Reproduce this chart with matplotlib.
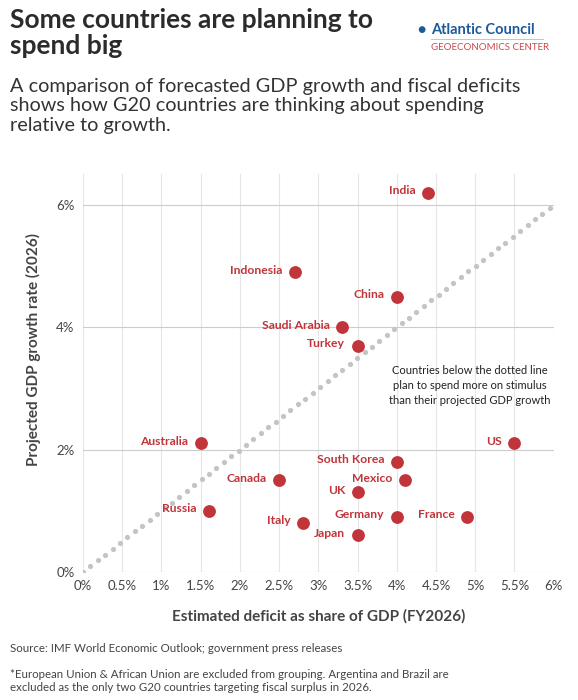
import matplotlib
matplotlib.use("Agg")
import matplotlib.pyplot as plt
import numpy as np

countries = ["India","Indonesia","China","Saudi Arabia","Turkey","Australia","US","South Korea",
             "Canada","Mexico","UK","Russia","Italy","Germany","France","Japan"]
deficit = [4.4,2.7,4.0,3.3,3.5,1.5,5.5,4.0,2.5,4.1,3.5,1.6,2.8,4.0,4.9,3.5]
growth = [6.2,4.9,4.5,4.0,3.7,2.1,2.1,1.8,1.5,1.5,1.3,1.0,0.8,0.9,0.9,0.6]
xticks = [0,0.5,1,1.5,2,2.5,3,3.5,4,4.5,5,5.5,6]
xticklabels = ["0%","0.5%","1%","1.5%","2%","2.5%","3%","3.5%","4%","4.5%","5%","5.5%","6%"]
yticks = [0,2,4,6]
yticklabels = ["0%","2%","4%","6%"]

plt.rcParams['font.family'] = ['Lato', 'DejaVu Sans']
red = "#c0343a"
fig = plt.figure(figsize=(5.78,7.0), dpi=100)
ax = fig.add_axes([0.1436, 0.183, 0.8144, 0.568])
ax.set_xlim(0,6); ax.set_ylim(0,6.5)
for x in xticks:
    ax.axvline(x, color="#e6e6e6", lw=0.8, zorder=0)
for y in yticks:
    ax.axhline(y, color="#cccccc", lw=0.8, zorder=0)
line = np.linspace(0, 5.95, 64)
ax.scatter(line, line, s=14, color="#c4c4c4", zorder=1, linewidths=0)
ax.scatter(deficit, growth, s=85, color=red, zorder=3, linewidths=0)
for c,x,y in zip(countries, deficit, growth):
    ax.annotate(c, (x,y), xytext=(-9,1.5), textcoords="offset points", ha="right", va="center",
                color=red, fontsize=8.7, fontweight="bold")
ax.text(4.93, 3.05, "Countries below the dotted line\nplan to spend more on stimulus\nthan their projected GDP growth",
        ha="center", va="center", fontsize=8, color="#222222", linespacing=1.45)
for s in ax.spines.values(): s.set_visible(False)
ax.set_xticks(xticks); ax.set_xticklabels(xticklabels, fontsize=9.5, color="#444444")
ax.set_yticks(yticks); ax.set_yticklabels(yticklabels, fontsize=9.5, color="#444444")
ax.tick_params(length=0, pad=6)
ax.set_xlabel("Estimated deficit as share of GDP (FY2026)", fontsize=11, fontweight="bold", color="#444444", labelpad=12)
ax.set_ylabel("Projected GDP growth rate (2026)", fontsize=11, fontweight="bold", color="#444444", labelpad=8)
ax.yaxis.set_label_coords(-0.09, 0.56)

fig.text(0.017, 0.988, "Some countries are planning to\nspend big", fontsize=19, fontweight="bold",
         color="#2b2b2b", va="top", linespacing=1.1)
fig.text(0.017, 0.888, "A comparison of forecasted GDP growth and fiscal deficits\nshows how G20 countries are thinking about spending\nrelative to growth.",
         fontsize=14.3, color="#333333", va="top", linespacing=1.15)
fig.text(0.745, 0.957, "Atlantic Council", fontsize=10.5, fontweight="bold", color="#1d5a9c", va="center")
fig.text(0.722, 0.957, "\u25CF", fontsize=10, color="#1d5a9c", va="center")
fig.add_artist(plt.Line2D([0.745,0.94],[0.944,0.944], color="#bbbbbb", lw=0.6))
fig.text(0.745, 0.932, "GEOECONOMICS CENTER", fontsize=7, color="#c9474d", va="center")
fig.text(0.017, 0.068, "Source: IMF World Economic Outlook; government press releases", fontsize=8.3, color="#444444")
fig.text(0.017, 0.013, "*European Union & African Union are excluded from grouping. Argentina and Brazil are\nexcluded as the only two G20 countries targeting fiscal surplus in 2026.",
         fontsize=8.3, color="#444444", linespacing=1.2)
fig.savefig("out.png", dpi=100)
